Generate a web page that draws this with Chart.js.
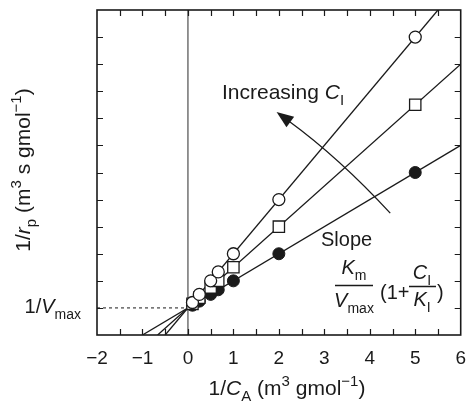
<!DOCTYPE html>
<html>
<head>
<meta charset="utf-8">
<script src="https://cdn.jsdelivr.net/npm/chart.js@4/dist/chart.umd.min.js"></script>
<style>
html,body{margin:0;padding:0;background:#fff;}
canvas{display:block;}
</style>
</head>
<body>
<canvas id="c" width="470" height="402"></canvas>
<script>
// ---- data ----
const invCA = [0.1, 0.25, 0.5, 0.667, 1, 2, 5];
const invRpHighCI = [1.2, 1.5, 2.0, 2.33, 3.0, 5.0, 11.0];   // open circles
const invRpMidCI  = [1.15, 1.375, 1.75, 2.0, 2.5, 4.0, 8.5];  // open squares
const invRpNoCI   = [1.1, 1.25, 1.5, 1.67, 2.0, 3.0, 6.0];    // filled circles
const fitSlopes = [2.0, 1.5, 1.0];   // high, mid, none
const fitIntercept = 1.0;            // 1/Vmax
const xTicks = [-2, -1, 0, 1, 2, 3, 4, 5, 6];
const xRange = [-2, 6];
const yRange = [0, 12];
const arrowPath = [[4.45, 4.5], [3.33, 6.54], [1.95, 8.23]]; // start, control, tip (data units)

const FONT = '"Liberation Sans", Arial, Helvetica, sans-serif';
const INK = '#1a1a1a';

function pts(xs, ys){ return xs.map((x,i)=>({x:x, y:ys[i]})); }
function fitLine(s){
  const x0 = Math.max(xRange[0], (yRange[0]-fitIntercept)/s);
  const x1 = Math.min(xRange[1], (yRange[1]-fitIntercept)/s);
  return [{x:x0, y:fitIntercept+s*x0}, {x:x1, y:fitIntercept+s*x1}];
}

function fontFor(st, size){
  const small = (st === 'sub' || st === 'subi' || st === 'sup');
  const it = (st === 'i' || st === 'subi');
  return (it ? 'italic ' : '') + (small ? Math.round(size*0.72) : size) + 'px ' + FONT;
}
function richWidth(ctx, parts, size){
  let w = 0;
  for (const [t, st] of parts){ ctx.font = fontFor(st, size); w += ctx.measureText(t).width; }
  return w;
}
function drawRich(ctx, x, y, parts, size, align){
  const w = richWidth(ctx, parts, size);
  let cx = align === 'center' ? x - w/2 : (align === 'right' ? x - w : x);
  ctx.textBaseline = 'alphabetic';
  ctx.textAlign = 'left';
  for (const [t, st] of parts){
    ctx.font = fontFor(st, size);
    let dy = 0;
    if (st === 'sub' || st === 'subi') dy = size*0.28;
    if (st === 'sup') dy = -size*0.42;
    ctx.fillText(t, cx, y + dy);
    cx += ctx.measureText(t).width;
  }
  return w;
}

const decor = {
  id: 'decor',
  afterDraw(chart){
    const ctx = chart.ctx, a = chart.chartArea;
    const xs = chart.scales.x, ys = chart.scales.y;
    ctx.save();
    ctx.strokeStyle = INK; ctx.fillStyle = INK;
    // frame
    ctx.lineWidth = 1.6;
    ctx.strokeRect(a.left, a.top, a.right - a.left, a.bottom - a.top);
    // inward ticks
    ctx.lineWidth = 1.2;
    ctx.beginPath();
    for (let v = xRange[0] + 0.5; v < xRange[1]; v += 0.5){
      const p = Math.round(xs.getPixelForValue(v)) + 0.5;
      ctx.moveTo(p, a.bottom); ctx.lineTo(p, a.bottom - 6);
      ctx.moveTo(p, a.top); ctx.lineTo(p, a.top + 6);
    }
    for (let v = yRange[0] + 1; v < yRange[1]; v += 1){
      const p = Math.round(ys.getPixelForValue(v)) + 0.5;
      ctx.moveTo(a.left, p); ctx.lineTo(a.left + 6, p);
      ctx.moveTo(a.right, p); ctx.lineTo(a.right - 6, p);
    }
    ctx.stroke();

    const S = 20, T = 21;
    // y-axis label 1/Vmax
    drawRich(ctx, 81, ys.getPixelForValue(fitIntercept) + 5,
      [['1/',''],['V','i'],['max','sub']], S, 'right');
    // y title (rotated)
    ctx.save();
    ctx.translate(30, 170);
    ctx.rotate(-Math.PI/2);
    drawRich(ctx, 0, 0, [['1/',''],['r','i'],['p','sub'],[' (m',''],['3','sup'],[' s gmol',''],['\u22121','sup'],[')','']], T, 'center');
    ctx.restore();
    // x title
    drawRich(ctx, 287, 395, [['1/',''],['C','i'],['A','sub'],[' (m',''],['3','sup'],[' gmol',''],['\u22121','sup'],[')','']], T, 'center');

    // Increasing C_I
    drawRich(ctx, 222, 99, [['Increasing ',''],['C','i'],['I','sub']], T, 'left');
    // Slope formula
    drawRich(ctx, 321, 246, [['Slope','']], S, 'left');
    drawRich(ctx, 354, 274, [['K','i'],['m','sub']], S, 'center');
    drawRich(ctx, 354, 307, [['V','i'],['max','sub']], S, 'center');
    drawRich(ctx, 380, 299, [['(1+','']], S, 'left');
    drawRich(ctx, 422, 279, [['C','i'],['I','sub']], S, 'center');
    drawRich(ctx, 422, 306, [['K','i'],['I','sub']], S, 'center');
    drawRich(ctx, 437, 299, [[')','']], S, 'left');
    ctx.lineWidth = 1.3;
    ctx.beginPath();
    ctx.moveTo(335, 285.5); ctx.lineTo(373, 285.5);
    ctx.moveTo(409, 286.5); ctx.lineTo(436, 286.5);
    ctx.stroke();

    // curved arrow
    const P = arrowPath.map(([x,y]) => [xs.getPixelForValue(x), ys.getPixelForValue(y)]);
    const tip = P[2];
    const dx = tip[0] - P[1][0], dy = tip[1] - P[1][1];
    const L = Math.hypot(dx, dy), ux = dx/L, uy = dy/L;
    const hl = 17, hw = 6.5;
    const bx = tip[0] - ux*hl, by = tip[1] - uy*hl;
    ctx.lineWidth = 1.3;
    ctx.beginPath();
    ctx.moveTo(P[0][0], P[0][1]);
    ctx.quadraticCurveTo(P[1][0], P[1][1], bx + ux*2, by + uy*2);
    ctx.stroke();
    ctx.beginPath();
    ctx.moveTo(tip[0], tip[1]);
    ctx.lineTo(bx - uy*hw, by + ux*hw);
    ctx.lineTo(bx + uy*hw, by - ux*hw);
    ctx.closePath();
    ctx.fill();
    ctx.restore();
  }
};

const lineDs = (data, order, opts) => Object.assign({
  data, showLine: true, pointRadius: 0, borderColor: INK, borderWidth: 1.3,
  fill: false, order, tension: 0
}, opts || {});

new Chart(document.getElementById('c'), {
  type: 'scatter',
  data: {
    datasets: [
      lineDs([{x:0, y:yRange[0]}, {x:0, y:yRange[1]}], 20, {borderColor: '#7a7a7a', borderWidth: 1.6}),
      lineDs([{x:xRange[0], y:fitIntercept}, {x:0, y:fitIntercept}], 19, {borderDash: [3, 3], borderWidth: 1}),
      lineDs(fitLine(fitSlopes[0]), 12),
      lineDs(fitLine(fitSlopes[1]), 11),
      lineDs(fitLine(fitSlopes[2]), 10),
      { data: pts(invCA, invRpNoCI), order: 3, pointStyle: 'circle', pointRadius: 6,
        backgroundColor: INK, borderColor: INK, borderWidth: 1 },
      { data: pts(invCA, invRpMidCI), order: 2, pointStyle: 'rect', pointRadius: 8,
        backgroundColor: '#fff', borderColor: INK, borderWidth: 1.3 },
      { data: pts(invCA, invRpHighCI), order: 1, pointStyle: 'circle', pointRadius: 6,
        backgroundColor: '#fff', borderColor: INK, borderWidth: 1.3 }
    ]
  },
  options: {
    responsive: false,
    devicePixelRatio: 1,
    animation: false,
    events: [],
    layout: { padding: { left: 97, right: 8, top: 10, bottom: 0 } },
    plugins: { legend: { display: false }, tooltip: { enabled: false } },
    scales: {
      x: {
        type: 'linear', min: xRange[0], max: xRange[1],
        grid: { display: false }, border: { display: false },
        afterBuildTicks: s => { s.ticks = xTicks.map(v => ({value: v})); },
        afterFit: s => { s.height = 67; },
        ticks: {
          padding: 4, color: INK, maxRotation: 0, autoSkip: false,
          font: { family: FONT, size: 19 },
          callback: v => v < 0 ? '\u2212' + Math.abs(v) : String(v)
        }
      },
      y: {
        type: 'linear', min: yRange[0], max: yRange[1], display: false
      }
    }
  },
  plugins: [decor]
});
</script>
</body>
</html>
